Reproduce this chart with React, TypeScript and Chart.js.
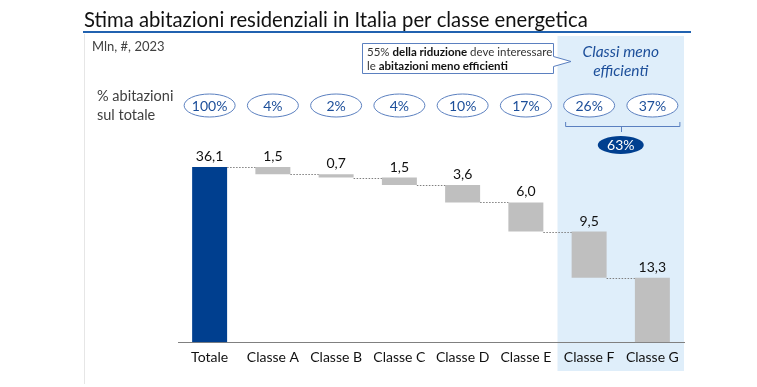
import React, { useEffect, useRef } from "react";
import { Chart, registerables } from "chart.js";

Chart.register(...registerables);

const categories = ["Totale", "Classe A", "Classe B", "Classe C", "Classe D", "Classe E", "Classe F", "Classe G"];
const values = [36.1, 1.5, 0.7, 1.5, 3.6, 6.0, 9.5, 13.3];
const valueLabels = ["36,1", "1,5", "0,7", "1,5", "3,6", "6,0", "9,5", "13,3"];
const shareLabels = ["100%", "4%", "2%", "4%", "10%", "17%", "26%", "37%"];
const highlightShare = "63%";
const highlightFrom = 6; // Classe F
const highlightTo = 7; // Classe G

const FONT = "Lato, 'Open Sans', sans-serif";
const BLUE_TEXT = "#1d4f9a";
const BLUE_LINE = "#5b80c0";
const DARK_BLUE = "#003f8f";

function buildRanges(): [number, number][] {
  const out: [number, number][] = [];
  let running = values[0];
  out.push([0, values[0]]);
  for (let i = 1; i < values.length; i++) {
    const high = running;
    const low = running - values[i];
    out.push([Math.max(0, Math.round(low * 10) / 10), high]);
    running = low;
  }
  return out;
}

const ranges = buildRanges();

const overlay = {
  id: "overlay",
  beforeDraw(chart: any) {
    const ctx = chart.ctx as CanvasRenderingContext2D;
    const x = chart.scales.x;
    const half = (x.getPixelForValue(1) - x.getPixelForValue(0)) / 2;
    const left = x.getPixelForValue(highlightFrom) - half;
    const right = x.getPixelForValue(highlightTo) + half;
    ctx.save();
    ctx.fillStyle = "#ffffff";
    ctx.fillRect(0, 0, chart.width, chart.height);
    ctx.fillStyle = "#dfeefa";
    ctx.fillRect(left, 36, right - left, 335);
    // faint left frame line
    ctx.strokeStyle = "#e6e6e6";
    ctx.lineWidth = 1;
    ctx.beginPath();
    ctx.moveTo(84.5, 34);
    ctx.lineTo(84.5, 384);
    ctx.stroke();
    ctx.restore();
  },
  afterDatasetsDraw(chart: any) {
    const ctx = chart.ctx as CanvasRenderingContext2D;
    const y = chart.scales.y;
    const meta = chart.getDatasetMeta(0);
    ctx.save();
    // connectors
    ctx.strokeStyle = "#7f7f7f";
    ctx.lineWidth = 1;
    ctx.setLineDash([1.5, 1.5]);
    for (let i = 0; i < ranges.length - 1; i++) {
      const v = i === 0 ? ranges[0][1] : ranges[i][0];
      const py = Math.round(y.getPixelForValue(v)) + 0.5;
      const a = meta.data[i];
      const b = meta.data[i + 1];
      ctx.beginPath();
      ctx.moveTo(a.x + a.width / 2, py);
      ctx.lineTo(b.x - b.width / 2, py);
      ctx.stroke();
    }
    ctx.setLineDash([]);
    // value labels
    ctx.fillStyle = "#111111";
    ctx.font = `14px ${FONT}`;
    ctx.textAlign = "center";
    ctx.textBaseline = "alphabetic";
    for (let i = 0; i < ranges.length; i++) {
      const el = meta.data[i];
      const top = y.getPixelForValue(ranges[i][1]);
      ctx.fillText(valueLabels[i], el.x, top - 6);
    }
    ctx.restore();
  },
  afterDraw(chart: any) {
    const ctx = chart.ctx as CanvasRenderingContext2D;
    const x = chart.scales.x;
    ctx.save();
    // title
    const title = "Stima abitazioni residenziali in Italia per classe energetica";
    ctx.font = `18px ${FONT}`;
    const w = ctx.measureText(title).width;
    const fs = (18 * 504) / w;
    ctx.font = `${fs}px ${FONT}`;
    ctx.fillStyle = "#111111";
    ctx.textAlign = "left";
    ctx.textBaseline = "alphabetic";
    ctx.fillText(title, 84, 27);
    ctx.fillStyle = "#2162b0";
    ctx.fillRect(83, 31, 608, 2);

    // subtitle
    ctx.fillStyle = "#404040";
    ctx.font = `13px ${FONT}`;
    ctx.fillText("Mln, #, 2023", 92, 51);
    ctx.font = `14.5px ${FONT}`;
    ctx.fillText("% abitazioni", 97, 101);
    ctx.fillText("sul totale", 97, 120);

    // callout
    ctx.fillStyle = "#ffffff";
    ctx.strokeStyle = BLUE_LINE;
    ctx.lineWidth = 1;
    ctx.beginPath();
    ctx.moveTo(362.5, 43.5);
    ctx.lineTo(553.5, 43.5);
    ctx.lineTo(553.5, 56.5);
    ctx.lineTo(571, 61.5);
    ctx.lineTo(553.5, 66.5);
    ctx.lineTo(553.5, 73.5);
    ctx.lineTo(362.5, 73.5);
    ctx.closePath();
    ctx.fill();
    ctx.stroke();
    const drawRich = (parts: [string, boolean][], px: number, py: number) => {
      let cx = px;
      for (const [t, b] of parts) {
        ctx.font = `${b ? "bold " : ""}11.5px ${FONT}`;
        ctx.fillStyle = b ? "#111111" : "#333333";
        ctx.fillText(t, cx, py);
        cx += ctx.measureText(t).width;
      }
    };
    drawRich([["55% ", false], ["della riduzione", true], [" deve interessare", false]], 367, 56);
    drawRich([["le ", false], ["abitazioni meno efficienti", true]], 367, 69.5);

    // highlight heading
    const hx = (x.getPixelForValue(highlightFrom) + x.getPixelForValue(highlightTo)) / 2;
    ctx.fillStyle = BLUE_TEXT;
    ctx.font = `italic 15.5px ${FONT}`;
    ctx.textAlign = "center";
    ctx.fillText("Classi meno", hx, 57);
    ctx.fillText("efficienti", hx, 76);

    // share ellipses
    ctx.font = `14px ${FONT}`;
    ctx.textBaseline = "middle";
    for (let i = 0; i < shareLabels.length; i++) {
      const cx = x.getPixelForValue(i);
      ctx.beginPath();
      ctx.ellipse(cx, 105.5, 25.5, 11.5, 0, 0, Math.PI * 2);
      ctx.fillStyle = "#ffffff";
      ctx.fill();
      ctx.strokeStyle = BLUE_LINE;
      ctx.stroke();
      ctx.fillStyle = BLUE_TEXT;
      ctx.fillText(shareLabels[i], cx, 106);
    }

    // bracket
    const bl = x.getPixelForValue(highlightFrom) - 24;
    const br = x.getPixelForValue(highlightTo) + 27;
    ctx.strokeStyle = BLUE_LINE;
    ctx.beginPath();
    ctx.moveTo(bl + 0.5, 122);
    ctx.lineTo(bl + 0.5, 126.5);
    ctx.lineTo(br + 0.5, 126.5);
    ctx.lineTo(br + 0.5, 122);
    ctx.moveTo(Math.round(hx) + 0.5, 126.5);
    ctx.lineTo(Math.round(hx) + 0.5, 132);
    ctx.stroke();

    // 63% pill
    ctx.beginPath();
    ctx.ellipse(hx, 145, 23, 9, 0, 0, Math.PI * 2);
    ctx.fillStyle = DARK_BLUE;
    ctx.fill();
    ctx.fillStyle = "#ffffff";
    ctx.font = `14px ${FONT}`;
    ctx.fillText(highlightShare, hx, 145.5);
    ctx.restore();
  },
};

export default function App() {
  const ref = useRef<HTMLCanvasElement>(null);
  useEffect(() => {
    if (!ref.current) return;
    const chart = new Chart(ref.current, {
      type: "bar",
      data: {
        labels: categories,
        datasets: [
          {
            data: ranges as any,
            backgroundColor: categories.map((_, i) => (i === 0 ? DARK_BLUE : "#bfbfbf")),
            borderWidth: 0,
            barPercentage: 0.553,
            categoryPercentage: 1,
          },
        ],
      },
      options: {
        animation: false,
        responsive: false,
        maintainAspectRatio: false,
        layout: { padding: { left: 178, right: 73, top: 148, bottom: 14 } },
        plugins: { legend: { display: false }, tooltip: { enabled: false } },
        scales: {
          x: {
            grid: { display: false, drawTicks: false },
            border: { display: true, color: "#808080", width: 1 },
            ticks: { color: "#111111", font: { family: FONT, size: 14 }, padding: 7, maxRotation: 0, autoSkip: false },
          },
          y: {
            display: false,
            min: 0,
            max: 40,
          },
        },
      },
      plugins: [overlay],
    });
    return () => chart.destroy();
  }, []);
  return (
    <div style={{ position: "fixed", left: 0, top: 0, width: 757, height: 387 }}>
      <canvas ref={ref} width={757} height={387} style={{ width: 757, height: 387 }} />
    </div>
  );
}
